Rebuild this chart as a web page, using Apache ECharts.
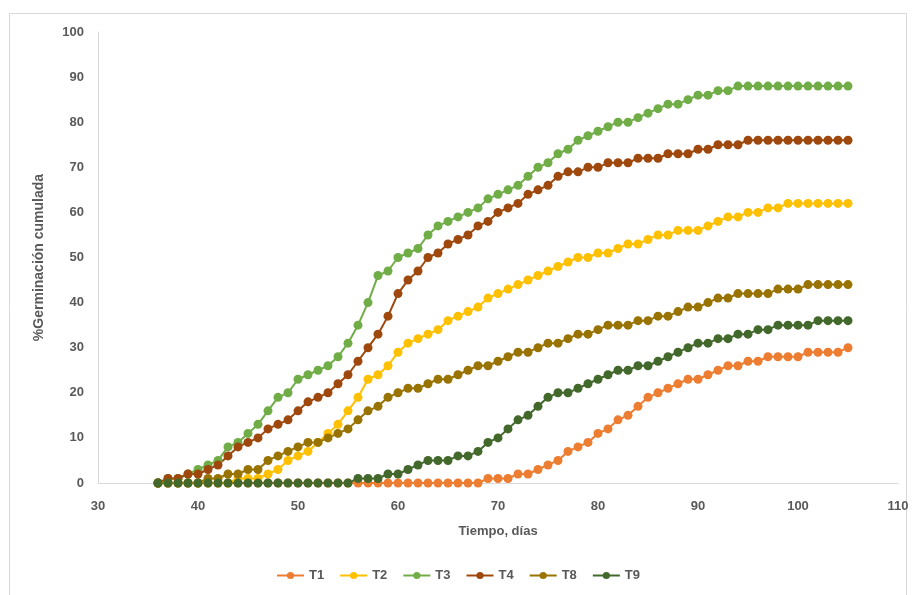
<!DOCTYPE html>
<html>
<head>
<meta charset="utf-8">
<script src="https://cdn.jsdelivr.net/npm/echarts@6/dist/echarts.min.js"></script>
<style>html,body{margin:0;padding:0;background:#fff;}#c{width:916px;height:595px;}</style>
</head>
<body>
<div id="c"></div>
<script>
const days = [36,37,38,39,40,41,42,43,44,45,46,47,48,49,50,51,52,53,54,55,56,57,58,59,60,61,62,63,64,65,66,67,68,69,70,71,72,73,74,75,76,77,78,79,80,81,82,83,84,85,86,87,88,89,90,91,92,93,94,95,96,97,98,99,100,101,102,103,104,105];
const T1 = [0,0,0,0,0,0,0,0,0,0,0,0,0,0,0,0,0,0,0,0,0,0,0,0,0,0,0,0,0,0,0,0,0,1,1,1,2,2,3,4,5,7,8,9,11,12,14,15,17,19,20,21,22,23,23,24,25,26,26,27,27,28,28,28,28,29,29,29,29,30];
const T2 = [0,0,0,0,0,0,0,0,1,1,1,2,3,5,6,7,9,11,13,16,19,23,24,26,29,31,32,33,34,36,37,38,39,41,42,43,44,45,46,47,48,49,50,50,51,51,52,53,53,54,55,55,56,56,56,57,58,59,59,60,60,61,61,62,62,62,62,62,62,62];
const T3 = [0,1,1,2,3,4,5,8,9,11,13,16,19,20,23,24,25,26,28,31,35,40,46,47,50,51,52,55,57,58,59,60,61,63,64,65,66,68,70,71,73,74,76,77,78,79,80,80,81,82,83,84,84,85,86,86,87,87,88,88,88,88,88,88,88,88,88,88,88,88];
const T4 = [0,1,1,2,2,3,4,6,8,9,10,12,13,14,16,18,19,20,22,24,27,30,33,37,42,45,47,50,51,53,54,55,57,58,60,61,62,64,65,66,68,69,69,70,70,71,71,71,72,72,72,73,73,73,74,74,75,75,75,76,76,76,76,76,76,76,76,76,76,76];
const T8 = [0,0,0,0,0,1,1,2,2,3,3,5,6,7,8,9,9,10,11,12,14,16,17,19,20,21,21,22,23,23,24,25,26,26,27,28,29,29,30,31,31,32,33,33,34,35,35,35,36,36,37,37,38,39,39,40,41,41,42,42,42,42,43,43,43,44,44,44,44,44];
const T9 = [0,0,0,0,0,0,0,0,0,0,0,0,0,0,0,0,0,0,0,0,1,1,1,2,2,3,4,5,5,5,6,6,7,9,10,12,14,15,17,19,20,20,21,22,23,24,25,25,26,26,27,28,29,30,31,31,32,32,33,33,34,34,35,35,35,35,36,36,36,36];
const names = ['T1','T2','T3','T4','T8','T9'];
const values = [T1,T2,T3,T4,T8,T9];
const colors = ['#ED7D31','#FFC000','#70AD47','#9E480E','#997300','#43682B'];

const txt = '#595959';
const font = '"Liberation Sans Narrow", "Liberation Sans", sans-serif';
const series = names.map((n,i)=>({
  name:n, type:'line',
  data: days.map((d,j)=>[d, values[i][j]]),
  symbol:'circle', symbolSize:9,
  itemStyle:{color:colors[i]},
  lineStyle:{color:colors[i], width:2},
  emphasis:{disabled:true},
  animation:false
}));

const chart = echarts.init(document.getElementById('c'));
chart.setOption({
  backgroundColor:'#fff',
  animation:false,
  graphic:[{type:'rect', shape:{x:9.5,y:13.5,width:897,height:600}, style:{fill:'none', stroke:'#d9d9d9', lineWidth:1}, silent:true}],
  grid:{left:98, right:18, top:32, bottom:112, containLabel:false},
  legend:{
    data:names, bottom:8, left:'center', itemWidth:27, itemHeight:9, itemGap:15,
    textStyle:{color:txt, fontFamily:font, fontWeight:'bold', fontSize:13}
  },
  xAxis:{
    type:'value', min:30, max:110, interval:10,
    name:'Tiempo, días', nameLocation:'middle', nameGap:42,
    nameTextStyle:{color:txt, fontFamily:font, fontWeight:'bold', fontSize:13},
    axisLine:{show:true, lineStyle:{color:'#d9d9d9', width:1}},
    axisTick:{show:false},
    splitLine:{show:false},
    axisLabel:{color:txt, fontFamily:font, fontWeight:'bold', fontSize:13, margin:17}
  },
  yAxis:{
    type:'value', min:0, max:100, interval:10,
    name:'%Germinación cumulada', nameLocation:'middle', nameGap:52, nameRotate:90,
    nameTextStyle:{color:txt, fontFamily:font, fontWeight:'bold', fontSize:14},
    axisLine:{show:true, lineStyle:{color:'#d9d9d9', width:1}},
    axisTick:{show:false},
    splitLine:{show:false},
    axisLabel:{color:txt, fontFamily:font, fontWeight:'bold', fontSize:13, margin:14}
  },
  series:series
});
</script>
</body>
</html>
